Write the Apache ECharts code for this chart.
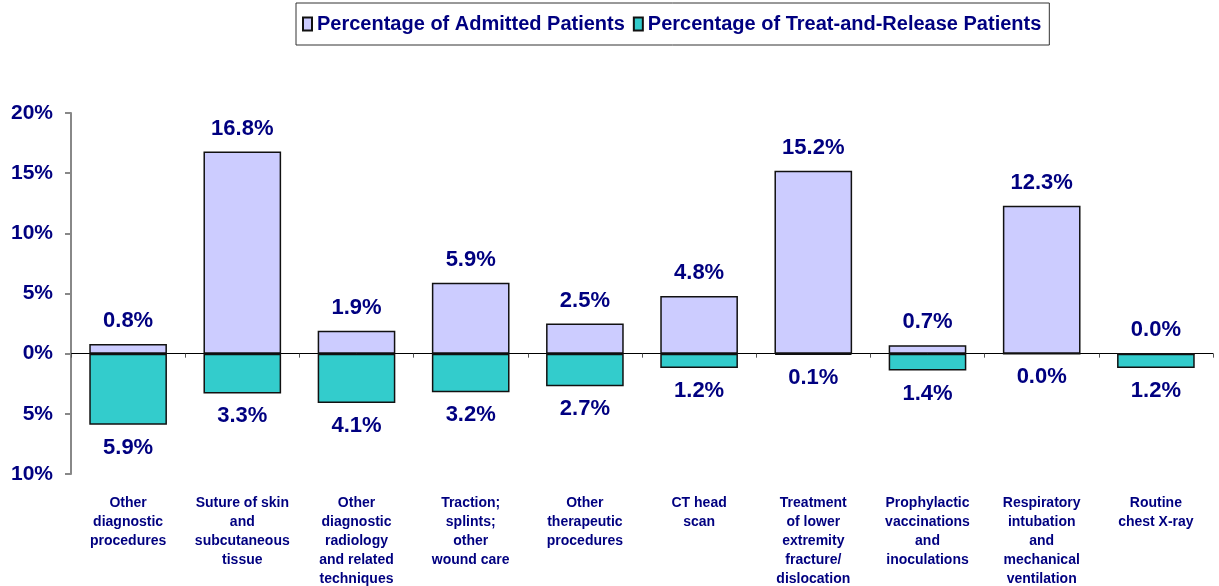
<!DOCTYPE html>
<html>
<head>
<meta charset="utf-8">
<script src="https://cdn.jsdelivr.net/npm/echarts@6/dist/echarts.min.js"></script>
<style>
  html, body { margin: 0; padding: 0; background: #fff; }
  #main { width: 1219px; height: 586px; }
</style>
</head>
<body>
<div id="main"></div>
<script>
const categories = [
  'Other\ndiagnostic\nprocedures',
  'Suture of skin\nand\nsubcutaneous\ntissue',
  'Other\ndiagnostic\nradiology\nand related\ntechniques',
  'Traction;\nsplints;\nother\nwound care',
  'Other\ntherapeutic\nprocedures',
  'CT head\nscan',
  'Treatment\nof lower\nextremity\nfracture/\ndislocation',
  'Prophylactic\nvaccinations\nand\ninoculations',
  'Respiratory\nintubation\nand\nmechanical\nventilation',
  'Routine\nchest X-ray'
];
// percent of admitted patients (drawn above zero)
const admitted = [0.8, 16.8, 1.9, 5.9, 2.5, 4.8, 15.2, 0.7, 12.3, 0.0];
// percent of treat-and-release patients (drawn below zero)
const treatRelease = [5.9, 3.3, 4.1, 3.2, 2.7, 1.2, 0.1, 1.4, 0.0, 1.2];

const navy = '#000080';
const font = "'Liberation Sans', Arial, sans-serif";

const chart = echarts.init(document.getElementById('main'));

const valueLabel = {
  show: true,
  distance: 12,
  color: navy,
  fontWeight: 'bold',
  fontSize: 22,
  fontFamily: font,
  formatter: p => Math.abs(p.value).toFixed(1) + '%'
};

const option = {
  animation: false,
  legend: {
    left: 296,
    top: 3,
    padding: [11, 8, 11, 6],
    borderColor: '#333',
    borderWidth: 1,
    icon: 'rect',
    itemWidth: 9,
    itemHeight: 13,
    itemGap: 8,
    textStyle: { color: navy, fontWeight: 'bold', fontSize: 20, fontFamily: font },
    data: ['Percentage of Admitted Patients', 'Percentage of Treat-and-Release Patients']
  },
  grid: { left: 71, right: 6, top: 113, bottom: 112, containLabel: false, outerBoundsMode: 'none' },
  xAxis: [{
    type: 'category',
    data: categories,
    axisLine: { onZero: true, lineStyle: { color: '#000', width: 1 } },
    axisTick: { show: true, length: 4, lineStyle: { color: '#555' } },
    axisLabel: { show: false }
  }, {
    type: 'category',
    data: categories,
    position: 'bottom',
    axisLine: { show: false, onZero: false },
    axisTick: { show: false },
    axisLabel: {
      interval: 0,
      margin: 20,
      color: navy,
      fontWeight: 'bold',
      fontSize: 14,
      lineHeight: 19,
      fontFamily: font
    }
  }],
  yAxis: {
    type: 'value',
    min: -10,
    max: 20,
    interval: 5,
    splitLine: { show: false },
    axisLine: { show: true, lineStyle: { color: '#888', width: 2 } },
    axisTick: { show: true, length: 6, lineStyle: { color: '#888', width: 2 } },
    axisLabel: {
      margin: 18,
      color: navy,
      fontWeight: 'bold',
      fontSize: 21,
      fontFamily: font,
      formatter: v => Math.abs(v) + '%'
    }
  },
  series: [{
    name: 'Percentage of Admitted Patients',
    type: 'bar',
    barWidth: '68%',
    barGap: '-100%',
    data: admitted,
    itemStyle: { color: '#CCCCFF', borderColor: '#111', borderWidth: 1.5 },
    label: Object.assign({ position: 'top' }, valueLabel)
  }, {
    name: 'Percentage of Treat-and-Release Patients',
    type: 'bar',
    barWidth: '68%',
    barGap: '-100%',
    data: treatRelease.map(v => -v),
    itemStyle: { color: '#33CCCC', borderColor: '#111', borderWidth: 1.5 },
    label: Object.assign({ position: 'bottom' }, valueLabel)
  }]
};

chart.setOption(option);
</script>
</body>
</html>
